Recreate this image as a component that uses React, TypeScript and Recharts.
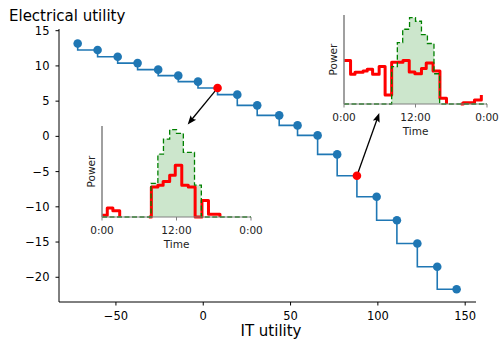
import { ComposedChart, LineChart, Line, Area, XAxis, YAxis, ReferenceLine } from "recharts";

// main scatter-step: IT utility vs electrical utility
const itUtility = [-71.9, -60.5, -49.0, -37.6, -25.8, -14.3, -3.0, 8.2, 19.5, 30.9, 43.5, 54.0, 65.5, 76.7, 88.0, 99.3, 110.9, 122.6, 134.0, 145.1];
const elecUtility = [13.17, 12.26, 11.3, 10.4, 9.47, 8.62, 7.77, 6.86, 5.92, 4.4, 2.98, 1.56, 0.14, -2.56, -5.58, -8.57, -11.9, -15.2, -18.5, -21.7];
const highlighted = [7, 14];

const xTicks = [-50, 0, 50, 100, 150];
const yTicks = [-20, -15, -10, -5, 0, 5, 10, 15];

// arrow tips (main chart coords), tails are the highlighted points
const arrowTipX = [-8.9, 100.8];
const arrowTipY = [1.7, 3.3];

// inset A (left)
const hoursGreenA = [0, 7.9, 9.0, 9.9, 10.9, 12.0, 13.1, 14.9, 16.0, 24];
const greenA = [0, 0.37, 0.69, 0.855, 0.96, 0.92, 0.71, 0.35, 0, 0];
const hoursRedA = [0, 0.85, 1.75, 2.85, 3.2, 7.55, 7.95, 9.0, 9.85, 10.9, 11.8, 12.85, 13.9, 15.0, 16.1, 17.15, 19.0, 19.3];
const redA = [0.02, 0.1, 0.07, 0, null, 0, 0.33, 0.35, 0.39, 0.46, 0.57, 0.35, 0.33, 0, 0.18, 0.03, 0, null];

// inset B (right)
const hoursGreenB = [0, 8.0, 8.95, 9.85, 11.0, 12.0, 13.0, 14.0, 15.1, 16.05, 24];
const greenB = [0, 0.42, 0.69, 0.84, 0.97, 0.93, 0.78, 0.68, 0.34, 0, 0];
const hoursRedB = [0, 1.1, 1.85, 3.2, 3.9, 4.8, 5.9, 6.9, 8.0, 9.9, 10.95, 11.9, 13.0, 13.8, 14.95, 16.1, 17.2, 17.5, 19.6, 20.0, 21.9, 23.05];
const redB = [0.49, 0.335, 0.357, 0.37, 0.39, 0.335, 0.42, 0.1, 0.47, 0.49, 0.36, 0.34, 0.4, 0.46, 0.37, 0.065, 0, null, 0, 0.015, 0.045, 0.1];

const insetTicks = [0, 12, 24];
const insetTickLabels = ["0:00", "12:00", "0:00"];

const minus = (v: number) => String(v).replace("-", "\u2212");

const mainData = itUtility.map((x, i) => ({ x, y: elecUtility[i] }));

const renderDot = (props: any) => {
  const { cx, cy, index } = props;
  const red = highlighted.includes(index);
  return <circle key={`d${index}`} cx={cx} cy={cy} r={4.3} fill={red ? "#ff0000" : "#1f77b4"} />;
};

const Arrow = (props: any) => {
  const { x1, y1, x2, y2 } = props;
  const dx = x2 - x1;
  const dy = y2 - y1;
  const len = Math.hypot(dx, dy) || 1;
  const ux = dx / len;
  const uy = dy / len;
  const hl = 9;
  const hw = 3.6;
  const bx = x2 - ux * hl;
  const by = y2 - uy * hl;
  const nx = -uy;
  const ny = ux;
  return (
    <g>
      <line x1={x1 + ux * 4} y1={y1 + uy * 4} x2={bx + ux * 2} y2={by + uy * 2} stroke="#000" strokeWidth={1.3} />
      <polygon
        points={`${x2},${y2} ${bx + nx * hw},${by + ny * hw} ${x2 - ux * hl * 0.8},${y2 - uy * hl * 0.8} ${bx - nx * hw},${by - ny * hw}`}
        fill="#000"
      />
    </g>
  );
};

type InsetProps = {
  left: number;
  top: number;
  plotW: number;
  plotH: number;
  hoursGreen: number[];
  green: number[];
  hoursRed: number[];
  red: (number | null)[];
};

const Inset = ({ left, top, plotW, plotH, hoursGreen, green, hoursRed, red }: InsetProps) => {
  const greenData = hoursGreen.map((t, i) => ({ t, v: green[i] }));
  const redData = hoursRed.map((t, i) => ({ t, v: red[i] }));
  return (
    <div style={{ position: "absolute", left, top }}>
      <ComposedChart width={22 + plotW + 12} height={5 + plotH + 31 + 5} margin={{ top: 5, right: 12, bottom: 5, left: 0 }}>
        <XAxis
          dataKey="t"
          type="number"
          domain={[0, 24]}
          ticks={insetTicks}
          interval={0}
          tickFormatter={(v: number) => insetTickLabels[insetTicks.indexOf(v)]}
          height={31}
          tickSize={3.5}
          tickMargin={6}
          stroke="#808080"
          tick={{ fontSize: 10.5, fill: "#222" }}
          label={{ value: "Time", position: "insideBottom", offset: 0, fontSize: 10.5, fill: "#222" }}
        />
        <YAxis
          type="number"
          domain={[0, 1]}
          width={22}
          tick={false}
          tickLine={false}
          axisLine={{ stroke: "#808080", strokeWidth: 1.5 }}
          label={{ value: "Power", angle: -90, position: "center", fontSize: 10.5, fill: "#222" }}
        />
        <Area data={greenData} dataKey="v" type="stepAfter" stroke="none" fill="#008000" fillOpacity={0.2} baseValue={0} isAnimationActive={false} />
        <Line data={redData} dataKey="v" type="stepAfter" stroke="#ff0000" strokeWidth={3} strokeLinejoin="round" dot={false} isAnimationActive={false} />
        <Line data={greenData} dataKey="v" type="stepAfter" stroke="#008000" strokeWidth={1.3} strokeDasharray="5 2.5" dot={false} isAnimationActive={false} />
      </ComposedChart>
    </div>
  );
};

export default function App() {
  return (
    <div style={{ position: "absolute", left: 0, top: 0, width: 500, height: 339, background: "#fff", fontFamily: "'DejaVu Sans', sans-serif", overflow: "hidden" }}>
      <LineChart width={500} height={339} data={mainData} margin={{ top: 29, right: 24, bottom: 7, left: 0 }}>
        <XAxis
          dataKey="x"
          type="number"
          domain={[-82.6, 156.2]}
          ticks={xTicks}
          interval={0}
          allowDataOverflow
          tickFormatter={minus}
          height={30}
          tickSize={3.5}
          tickMargin={6}
          stroke="#000"
          tick={{ fontSize: 11.5, fill: "#000" }}
        />
        <YAxis
          type="number"
          domain={[-23.51, 15.24]}
          ticks={yTicks}
          interval={0}
          allowDataOverflow
          tickFormatter={minus}
          width={59}
          tickSize={3.5}
          tickMargin={6}
          stroke="#000"
          tick={{ fontSize: 11.5, fill: "#000" }}
        />
        {highlighted.map((idx, k) => (
          <ReferenceLine
            key={k}
            segment={[
              { x: itUtility[idx], y: elecUtility[idx] },
              { x: arrowTipX[k], y: arrowTipY[k] },
            ]}
            ifOverflow="visible"
            shape={Arrow}
          />
        ))}
        <Line type="stepBefore" dataKey="y" stroke="#1f77b4" strokeWidth={1.6} dot={renderDot} isAnimationActive={false} />
      </LineChart>
      <Inset left={80} top={121} plotW={149} plotH={91} hoursGreen={hoursGreenA} green={greenA} hoursRed={hoursRedA} red={redA} />
      <Inset left={322} top={10} plotW={143} plotH={89} hoursGreen={hoursGreenB} green={greenB} hoursRed={hoursRedB} red={redB} />
      <div style={{ position: "absolute", left: 9, top: 9, fontSize: 15, lineHeight: "15px", color: "#000", whiteSpace: "nowrap" }}>Electrical utility</div>
      <div style={{ position: "absolute", left: 171, width: 200, top: 322.5, fontSize: 15, lineHeight: "16px", color: "#000", textAlign: "center", whiteSpace: "nowrap" }}>IT utility</div>
    </div>
  );
}
